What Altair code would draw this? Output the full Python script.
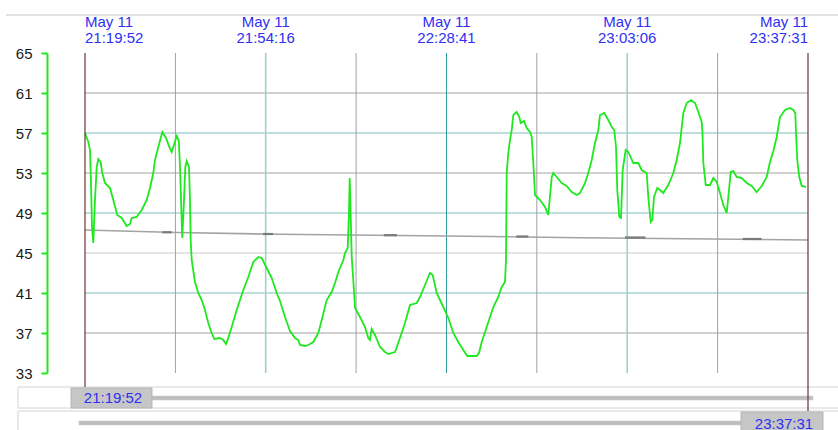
import altair as alt
import pandas as pd

# ---------------- data ----------------
# minutes elapsed since May 11 21:19:52
t_min = [0.0, 0.63, 0.95, 1.14, 1.33, 1.58, 1.90, 2.23, 2.53, 2.99, 3.29, 3.81, 4.76, 5.39, 6.15, 6.99,
         7.94, 8.57, 8.89, 9.84, 10.80, 11.75, 12.38, 13.00, 13.33, 13.96, 14.72, 15.42, 16.05, 16.51,
         16.94, 17.46, 17.84, 18.09, 18.28, 18.52, 18.85, 19.10, 19.36, 19.80, 19.99, 20.12, 20.31,
         20.94, 21.57, 22.22, 22.85, 23.47, 24.12, 24.62, 25.70, 26.33, 26.85, 27.28, 27.93, 28.88,
         30.14, 31.09, 32.04, 32.99, 33.64, 34.59, 35.55, 36.50, 37.13, 38.08, 39.03, 39.98, 40.61,
         40.93, 41.89, 42.51, 43.47, 44.42, 45.07, 46.02, 46.97, 47.60, 48.23, 49.18, 49.50, 50.01,
         50.26, 50.40, 50.59, 50.78, 51.08, 51.41, 52.36, 53.31, 53.94, 54.26, 54.58, 55.21, 56.17,
         57.12, 57.75, 59.02, 59.97, 60.92, 61.88, 63.15, 63.78, 64.73, 65.68, 66.20, 66.96, 68.22,
         69.17, 70.12, 71.07, 72.02, 72.79, 73.62, 74.58, 75.01, 75.53, 76.48, 77.74, 78.69, 79.33,
         79.96, 80.15, 80.29, 80.59, 80.92, 81.24, 81.55, 82.19, 82.69, 82.95, 83.58, 84.10, 84.72,
         85.05, 85.35, 85.68, 86.63, 87.58, 88.21, 88.86, 89.16, 89.81, 90.76, 91.71, 92.66, 93.61,
         94.24, 95.20, 95.82, 96.47, 97.10, 97.73, 98.05, 98.87, 99.63, 100.28, 100.77, 101.10,
         101.34, 101.73, 102.05, 102.37, 102.94, 103.44, 104.39, 105.34, 105.99, 106.94, 107.24,
         107.70, 108.01, 108.33, 108.96, 109.47, 110.10, 111.05, 112.01, 112.65, 113.28, 113.91,
         114.56, 115.38, 116.14, 116.77, 117.41, 117.56, 117.72, 118.18, 119.00, 119.63, 120.27,
         120.90, 121.53, 122.17, 122.48, 122.94, 123.43, 124.08, 125.03, 125.98, 126.93, 127.88,
         128.84, 129.79, 130.42, 131.05, 131.69, 132.32, 133.27, 134.22, 134.85, 135.23, 135.37,
         135.61, 135.99, 136.45, 137.27]
temp = [57.0, 56.1, 55.3, 52.0, 47.6, 46.0, 50.3, 53.6, 54.4, 54.1, 53.0, 52.0, 51.5, 50.3, 48.8, 48.5,
        47.7, 47.9, 48.5, 48.6, 49.3, 50.3, 51.5, 53.0, 54.3, 55.6, 57.1, 56.5, 55.6, 55.1,
        55.8, 56.7, 56.3, 53.6, 50.3, 46.5, 50.3, 53.6, 54.2, 53.6, 50.3, 46.3, 44.3,
        42.1, 41.0, 40.3, 39.3, 38.0, 37.0, 36.4, 36.5, 36.3, 35.9, 36.5, 37.6, 39.3,
        41.3, 42.6, 44.1, 44.6, 44.5, 43.5, 42.5, 41.0, 40.2, 38.6, 37.2, 36.5, 36.3,
        35.8, 35.7, 35.8, 36.1, 37.0, 38.3, 40.3, 41.1, 42.0, 43.1, 44.3, 45.0, 45.5,
        49.0, 52.5, 48.6, 44.6, 42.3, 39.5, 38.6, 37.6, 36.5, 36.3, 37.4, 36.8, 35.6,
        35.1, 34.9, 35.1, 36.5, 38.0, 39.8, 40.0, 40.6, 41.8, 43.0, 42.8, 41.0, 39.6,
        38.5, 37.0, 36.1, 35.3, 34.7, 34.7, 34.7, 35.0, 36.1, 37.6, 39.6, 40.6, 41.6,
        42.1, 44.3, 53.0, 55.0, 56.3, 57.3, 58.8, 59.1, 58.6, 58.0, 58.2, 57.5, 57.1,
        56.6, 54.0, 50.8, 50.3, 49.6, 48.8, 52.6, 53.0, 52.6, 52.0, 51.7, 51.1, 50.8,
        51.0, 52.0, 53.0, 54.3, 56.0, 57.3, 58.8, 59.0, 58.3, 57.6, 57.3, 55.6,
        51.3, 48.6, 48.5, 53.3, 55.3, 55.1, 54.0, 54.0, 53.3, 53.0, 50.6,
        48.1, 48.3, 50.6, 51.5, 51.3, 51.0, 51.8, 53.0, 54.3, 56.0, 59.0,
        60.0, 60.3, 60.0, 59.1, 58.1, 57.0, 54.0, 51.8, 51.8, 52.5, 52.1,
        51.0, 49.8, 49.0, 50.6, 53.1, 53.2, 52.6, 52.5, 52.0, 51.7, 51.1,
        51.7, 52.6, 54.1, 55.2, 56.6, 58.6, 59.3, 59.5, 59.3, 59.0, 57.0,
        54.3, 52.6, 51.7, 51.6]

# slowly falling grey reference series
ref_min = [0.0, 17.5, 37.1, 68.9, 94.2, 137.65]
ref_val = [47.3, 47.05, 46.87, 46.7, 46.53, 46.3]
# short darker marks on the grey series
mark_start = [14.7, 33.9, 56.9, 82.1, 102.8, 125.2]
mark_end = [16.5, 35.8, 59.4, 84.4, 106.7, 128.8]
mark_val = [47.07, 46.9, 46.78, 46.65, 46.55, 46.4]

# axis / grid values
y_ticks = [33, 37, 41, 45, 49, 53, 57, 61, 65]
h_grid_dark = [61, 53, 37]
h_grid_teal = [57, 49, 41]
h_grid_light = [45]
v_grid_grey = [17.21, 51.61, 86.02, 120.44]
v_grid_lightteal = [34.40, 103.23]
v_grid_teal = [68.82]
x_start, x_end = 0.0, 137.65

label_min = [0.0, 34.40, 68.82, 103.23, 137.65]
label_date = ["May 11"] * 5
label_time = ["21:19:52", "21:54:16", "22:28:41", "23:03:06", "23:37:31"]
range_start_label = "21:19:52"
range_end_label = "23:37:31"

# ---------------- styling ----------------
FONT = "Liberation Sans"
BLUE = "#2f2ff2"
GREEN = "#1ee81e"
W, H = 723, 320

xs = alt.Scale(domain=[x_start, x_end], nice=False, zero=False)
ys = alt.Scale(domain=[33, 65], nice=False, zero=False)
one = pd.DataFrame({"k": [0]})

Y_AXIS = alt.Axis(values=y_ticks, offset=38, domainColor=GREEN, domainWidth=2,
                  tickColor=GREEN, tickWidth=2, tickSize=6, labelFont=FONT, labelFontSize=15,
                  labelColor="#1a1a1a", labelPadding=9, grid=False, title=None)


def X(f="m"):
    return alt.X(f + ":Q", scale=xs, axis=None)


def Y(f="v"):
    return alt.Y(f + ":Q", scale=ys, axis=Y_AXIS)


def hrules(vals, color, width):
    return alt.Chart(pd.DataFrame({"v": vals})).mark_rule(color=color, strokeWidth=width).encode(
        y=Y(), x=alt.value(0), x2=alt.value(W))


def vrules(vals, color, width, y2=H):
    return alt.Chart(pd.DataFrame({"m": vals})).mark_rule(color=color, strokeWidth=width).encode(
        x=X(), y=alt.value(0), y2=alt.value(y2))


def box(x, x2, y, y2, fill, stroke=None, sw=1.0):
    kw = dict(fill=fill)
    if stroke:
        kw.update(stroke=stroke, strokeWidth=sw)
    return alt.Chart(one).mark_rect(**kw).encode(
        x=alt.value(x), x2=alt.value(x2), y=alt.value(y), y2=alt.value(y2))


def label(text, x, y):
    return alt.Chart(pd.DataFrame({"t": [text]})).mark_text(
        font=FONT, fontSize=15, color=BLUE, align="center", baseline="alphabetic").encode(
        x=alt.value(x), y=alt.value(y), text="t:N")


# chrome
top_line = alt.Chart(one).mark_rule(color="#e2e2e2", strokeWidth=2).encode(
    x=alt.value(-79), x2=alt.value(760), y=alt.value(-38))
box1 = box(-67, 765, 334, 355, "white", "#d2d2d2")
box2 = box(-67, 765, 358, 400, "white", "#d2d2d2")
track1 = box(67, 728, 343, 347, "#bdbdbd", "#d0d0d0", 0.6)
track2 = box(-6, 656, 368, 372, "#bdbdbd", "#d0d0d0", 0.6)
lab1_box = box(-14, 67, 335, 355, "#c6c6c6", "#b5b5b5")
lab2_box = box(656, 738, 359, 385, "#c6c6c6", "#b5b5b5")
lab1 = label(range_start_label, 28, 349.5)
lab2 = label(range_end_label, 699, 375.5)

# grid
grid = [
    hrules(h_grid_light, "#dcdcdc", 1.6),
    hrules(h_grid_teal, "#a9d3d3", 1.4),
    hrules(h_grid_dark, "#a2a2a2", 1),
    vrules(v_grid_grey, "#a0a0a0", 1),
    vrules(v_grid_lightteal, "#9fcfcf", 1.6),
    vrules(v_grid_teal, "#2f9a9a", 1),
]

ref_line = alt.Chart(pd.DataFrame({"m": ref_min, "v": ref_val})).mark_line(
    color="#a3a3a3", strokeWidth=1.6).encode(x=X(), y=Y())
ref_marks = alt.Chart(pd.DataFrame({"m": mark_start, "m2": mark_end, "v": mark_val})).mark_rule(
    color="#7a7a7a", strokeWidth=2.2).encode(x=X(), x2="m2:Q", y=Y())

main = alt.Chart(pd.DataFrame({"m": t_min, "v": temp})).mark_line(
    color=GREEN, strokeWidth=1.8).encode(x=X(), y=Y())

edge_left = vrules([x_start], "#6e3434", 1.2, 334)
edge_right = vrules([x_end], "#6e3434", 1.2, 358)

lab_df = pd.DataFrame({"m": label_min, "d": label_date, "t": label_time})


def top_labels(sub, align):
    base = alt.Chart(sub)
    l1 = base.mark_text(font=FONT, fontSize=15, color=BLUE, align=align,
                        baseline="alphabetic").encode(x=X(), y=alt.value(-25.6), text="d:N")
    l2 = base.mark_text(font=FONT, fontSize=15, color=BLUE, align=align,
                        baseline="alphabetic").encode(x=X(), y=alt.value(-10.2), text="t:N")
    return [l1, l2]


tops = (top_labels(lab_df.iloc[[0]], "left") + top_labels(lab_df.iloc[1:4], "center")
        + top_labels(lab_df.iloc[[4]], "right"))

chart = alt.layer(
    top_line, box1, box2, track1, track2, *grid, ref_line, ref_marks, main,
    edge_left, edge_right, lab1_box, lab2_box, lab1, lab2, *tops
).properties(
    width=W, height=H,
    padding={"left": 85, "top": 53, "right": 30, "bottom": 57},
    autosize=alt.AutoSizeParams(type="none"),
    background="white",
).configure_view(strokeWidth=0)

chart.save("out.html", embed_options={"renderer": "svg", "actions": False})
